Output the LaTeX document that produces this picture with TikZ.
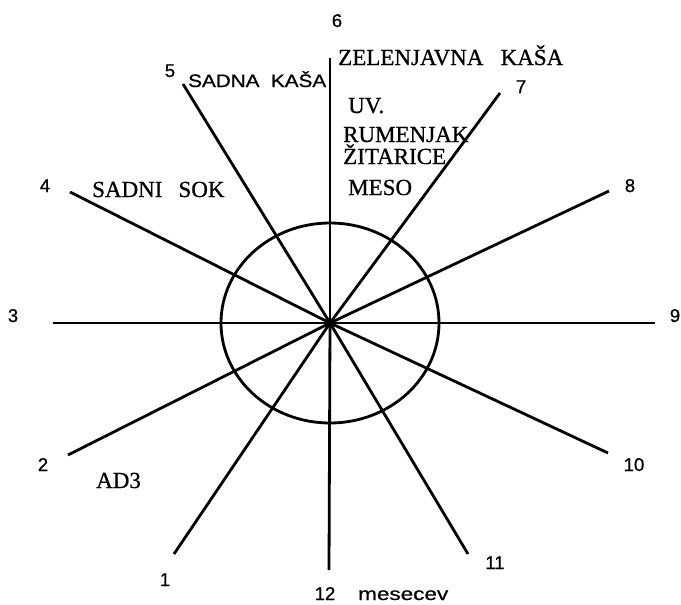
\documentclass[tikz,border=0pt]{standalone}
\usepackage{fontspec}
\setmainfont{Liberation Serif}[FakeBold=0.8]
\newfontfamily\sansn{Liberation Sans}[FakeBold=0.8]
\newfontfamily\sansw{Liberation Sans}[FakeStretch=1.15,FakeBold=0.8]
\newfontfamily\sansm{Liberation Sans}[FakeStretch=1.25,FakeBold=0.8]
\begin{document}
\begin{tikzpicture}[x=1pt,y=-1pt,
  spoke/.style={line width=2.8pt},
  num/.style={font=\sansn\fontsize{18.5}{18.5}\selectfont, inner sep=0pt, anchor=base},
  food/.style={font=\fontsize{23}{23}\selectfont, inner sep=0pt, anchor=base west},
  sfood/.style={font=\sansw\fontsize{18}{18}\selectfont, inner sep=0pt, anchor=base west}]
\useasboundingbox (0,0) rectangle (681,605);
\coordinate (c) at (330,323);
\coordinate (e1) at (174,554);
\coordinate (e2) at (68,455);
\coordinate (e3) at (53,323);
\coordinate (e4) at (70,192);
\coordinate (e5) at (183,84);
\coordinate (e6) at (330,58);
\coordinate (e7) at (500,93);
\coordinate (e8) at (609,191);
\coordinate (e9) at (655,323);
\coordinate (e10) at (608,453);
\coordinate (e11) at (468,554);
\coordinate (e12) at (329,570);
\draw[spoke] (c) ellipse [x radius=109, y radius=100];
\foreach \i in {1,...,12} \draw[spoke] (c) -- (e\i);
\fill (c) circle [radius=4];
% month numbers
\node[num] (l1) at (165,586) {1};
\node[num] (l2) at (43,471) {2};
\node[num] (l3) at (13,322) {3};
\node[num] (l4) at (45,192) {4};
\node[num] (l5) at (170,77) {5};
\node[num] (l6) at (337,27) {6};
\node[num] (l7) at (521,93) {7};
\node[num] (l8) at (630,192) {8};
\node[num] (l9) at (675,322) {9};
\node[num] (l10) at (634,471) {10};
\node[num] (l11) at (495,569) {11};
\node[num] (l12) at (325,600) {12};
\node[num, font=\sansm\fontsize{18}{18}\selectfont, anchor=base west] (mes) at (358,600) {mesecev};
% foods
\node[food] (zel) at (338,65) {ZELENJAVNA\hspace{0.75em}KAŠA};
\node[sfood] (sadna) at (188,87) {SADNA~~KAŠA};
\node[food] (uv) at (348,113) {UV.};
\node[food] (rum) at (343,142) {RUMENJAK};
\node[food] (zit) at (343,164) {ŽITARICE};
\node[food] (meso) at (348,195) {MESO};
\node[food] (sok) at (92,197) {SADNI\hspace{0.7em}SOK};
\node[food] (ad3) at (96,488) {AD3};
\end{tikzpicture}
\end{document}
